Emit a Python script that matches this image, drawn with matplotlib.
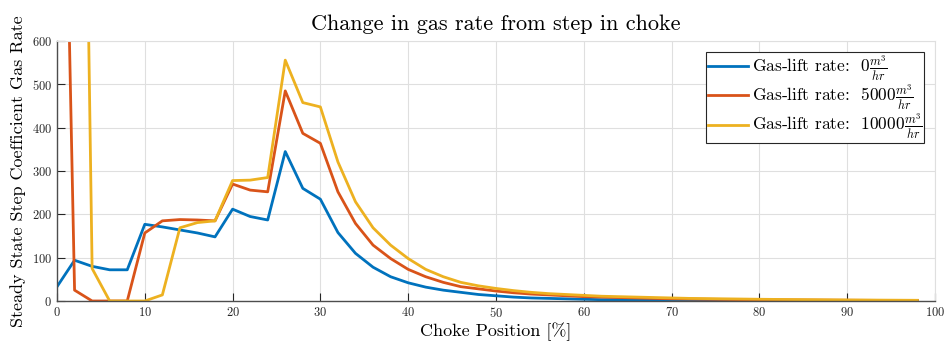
import matplotlib
matplotlib.use("Agg")
import matplotlib.pyplot as plt

plt.rcParams['font.family'] = 'serif'
plt.rcParams['font.serif'] = ['cmr10']
plt.rcParams['mathtext.fontset'] = 'cm'
plt.rcParams['axes.unicode_minus'] = False
plt.rcParams['axes.formatter.use_mathtext'] = True

# choke position [%]
choke = list(range(0, 100, 2))

# steady state step coefficient, one list per gas-lift rate
gain_0 = [33, 94, 80, 72, 72, 177, 171, 164, 157, 148,
          212, 195, 187, 345, 260, 235, 158, 110, 78, 56,
          42, 32, 25, 20, 15, 12, 9, 7, 6, 5,
          4, 3, 3, 2.5, 2, 2, 1.7, 1.5, 1.3, 1.2,
          1.0, 0.9, 0.8, 0.7, 0.6, 0.5, 0.5, 0.4, 0.4, 0.3]
gain_5000 = [2000, 25, 0, 0, 0, 157, 185, 188, 187, 185,
             270, 256, 252, 485, 387, 364, 252, 179, 129, 98,
             73, 56, 43, 33, 28, 23, 19, 16, 14, 12,
             10, 9, 8, 7, 6, 5, 4.5, 4, 3.6, 3.2,
             2.9, 2.6, 2.3, 2.1, 1.9, 1.7, 1.5, 1.3, 1.1, 1.0]
gain_10000 = [4000, 2800, 75, 0, 0, 0, 14, 169, 181, 185,
              278, 279, 285, 556, 458, 448, 321, 229, 169, 129,
              98, 73, 56, 43, 35, 29, 24, 20, 17, 15,
              13, 11, 10, 9, 8, 7, 6, 5.5, 5, 4.5,
              4, 3.6, 3.3, 3, 2.7, 2.4, 2.2, 2, 1.8, 1.6]

labels = [r'Gas-lift rate:  $0\frac{m^3}{hr}$',
          r'Gas-lift rate:  $5000\frac{m^3}{hr}$',
          r'Gas-lift rate:  $10000\frac{m^3}{hr}$']
colors = ['#0072BD', '#D95319', '#EDB120']

fig = plt.figure(figsize=(9.47, 3.47), dpi=100)
ax = fig.add_axes([0.0602, 0.1326, 0.927, 0.749])

for series, lab, col in zip([gain_0, gain_5000, gain_10000], labels, colors):
    ax.plot(choke, series, color=col, linewidth=2, label=lab)

ax.set_xlim(0, 100)
ax.set_ylim(0, 600)
ax.set_xticks(range(0, 101, 10))
ax.set_yticks(range(0, 601, 100))
ax.grid(True, color='#dfdfdf', linewidth=0.8)
ax.set_axisbelow(True)
ax.tick_params(direction='in', length=6, width=0.8, colors='#262626',
               labelsize=9, labelcolor='#262626')
for side in ['top', 'right']:
    ax.spines[side].set_color('#dfdfdf')
for side in ['left', 'bottom']:
    ax.spines[side].set_color('#4d4d4d')
    ax.spines[side].set_linewidth(1.0)

ax.set_title('Change in gas rate from step in choke', fontsize=16, pad=8)
ax.set_xlabel('Choke Position [%]', fontsize=13, labelpad=2)
ax.set_ylabel('Steady State Step Coefficient Gas Rate', fontsize=13, labelpad=4)

leg = ax.legend(loc='upper right', fontsize=12.5, fancybox=False, framealpha=1,
                edgecolor='#262626', borderpad=0.1, handlelength=2.3,
                handletextpad=0.25, labelspacing=0.0, borderaxespad=0.6)
leg.get_frame().set_linewidth(0.8)

fig.savefig('out.png', dpi=100)
